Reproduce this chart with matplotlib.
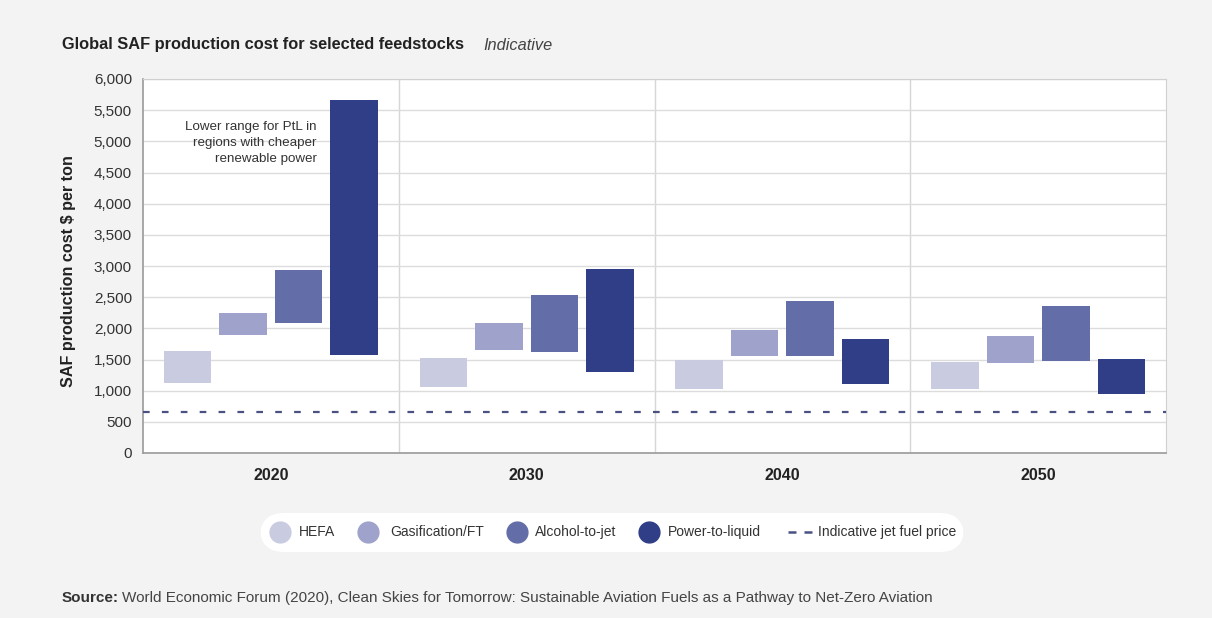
import matplotlib
matplotlib.use("Agg")
import matplotlib.pyplot as plt
import numpy as np
from matplotlib.lines import Line2D
from matplotlib.patches import FancyBboxPatch

plt.rcParams['font.family'] = ['Liberation Sans', 'DejaVu Sans']

years = ["2020", "2030", "2040", "2050"]
feedstocks = ["HEFA", "Gasification/FT", "Alcohol-to-jet", "Power-to-liquid"]
colors = ["#c9cbe1", "#9fa3cb", "#636ea8", "#2f3e86"]
# low / high cost ranges per feedstock, for each year
low = {
    "HEFA":            [1120, 1060, 1020, 1020],
    "Gasification/FT": [1890, 1660, 1560, 1450],
    "Alcohol-to-jet":  [2080, 1620, 1560, 1480],
    "Power-to-liquid": [1570, 1300, 1100, 950],
}
high = {
    "HEFA":            [1630, 1520, 1500, 1460],
    "Gasification/FT": [2250, 2085, 1970, 1880],
    "Alcohol-to-jet":  [2940, 2530, 2435, 2365],
    "Power-to-liquid": [5660, 2950, 1830, 1510],
}
jet_fuel_price = 650
yticks = list(range(0, 6001, 500))
legend_labels = feedstocks + ["Indicative jet fuel price"]

W, H = 1212, 618
fig = plt.figure(figsize=(W / 100, H / 100), dpi=100)
fig.patch.set_facecolor("#f3f3f3")
ax = fig.add_axes([143/W, 1-453/H, (1166-143)/W, (453-79)/H])
ax.set_facecolor("white")

x = np.arange(len(years))
bw = 0.186
step = 0.217
for i, f in enumerate(feedstocks):
    off = (i - 1.5) * step
    lo = np.array(low[f]); hi = np.array(high[f])
    ax.bar(x + off, hi - lo, bottom=lo, width=bw, color=colors[i], zorder=3)

ax.axhline(jet_fuel_price, color="#4b5282", lw=1.6, dashes=(3, 5.5), zorder=4)

ax.set_xlim(-0.5, len(years) - 0.5)
ax.set_ylim(0, 6000)
ax.set_yticks(yticks)
ax.set_yticklabels([f"{v:,}" for v in yticks], fontsize=11, color="#333333")
ax.set_xticks(x)
ax.set_xticklabels(years, fontsize=11.5, fontweight="bold", color="#222222")
ax.tick_params(axis="both", length=0, pad=8)
ax.tick_params(axis="x", pad=11)
ax.grid(axis="y", color="#dcdcdc", lw=1, zorder=0)
for sep in x[:-1] + 0.5:
    ax.axvline(sep, color="#d6d6d6", lw=1, zorder=0)
for s in ["top", "right"]:
    ax.spines[s].set_color("#d0d0d0")
for s in ["left", "bottom"]:
    ax.spines[s].set_color("#9a9a9a")
    ax.spines[s].set_linewidth(1.2)

fig.text(68/W, 1-271/H, "SAF production cost $ per ton", fontsize=11.6,
         fontweight="bold", color="#222222", rotation=90, ha="center", va="center")

ax.text(0.18, 5330, "Lower range for PtL in\nregions with cheaper\nrenewable power",
        ha="right", va="top", fontsize=9.6, color="#333333", linespacing=1.45, zorder=5)

fig.text(62/W, 1-45/H, "Global SAF production cost for selected feedstocks",
         fontsize=11.8, fontweight="bold", color="#222222", va="center")
fig.text(483/W, 1-45/H, "Indicative", fontsize=11.8, style="italic",
         color="#444444", va="center")

# legend (manual layout)
box = FancyBboxPatch((260/W, 1-552/H), (964-260)/W, 39/H,
                     boxstyle="round,pad=0,rounding_size=0.02",
                     transform=fig.transFigure, facecolor="white", edgecolor="none",
                     mutation_aspect=W / H)
fig.patches.append(box)
ly = 1 - 532/H
circle_x = [280, 368, 517, 649]
text_x = [299, 390, 535, 668]
for c, cx, tx, lab in zip(colors, circle_x, text_x, legend_labels[:4]):
    fig.add_artist(Line2D([cx/W], [ly], marker="o", ls="none", markersize=15,
                          color=c, transform=fig.transFigure))
    fig.text(tx/W, ly, lab, fontsize=10, color="#333333", va="center")
fig.add_artist(Line2D([788/W, 813/W], [ly, ly], color="#4b5282", lw=1.8,
                      dashes=(3.2, 3.2), transform=fig.transFigure))
fig.text(818/W, ly, legend_labels[4], fontsize=10, color="#333333", va="center")

fig.text(62/W, 1-598/H, "Source:", fontsize=11, fontweight="bold",
         color="#333333", va="center")
fig.text(122/W, 1-598/H,
         "World Economic Forum (2020), Clean Skies for Tomorrow: Sustainable Aviation Fuels as a Pathway to Net-Zero Aviation",
         fontsize=11, color="#444444", va="center")

fig.savefig("out.png", dpi=100, facecolor=fig.get_facecolor())
